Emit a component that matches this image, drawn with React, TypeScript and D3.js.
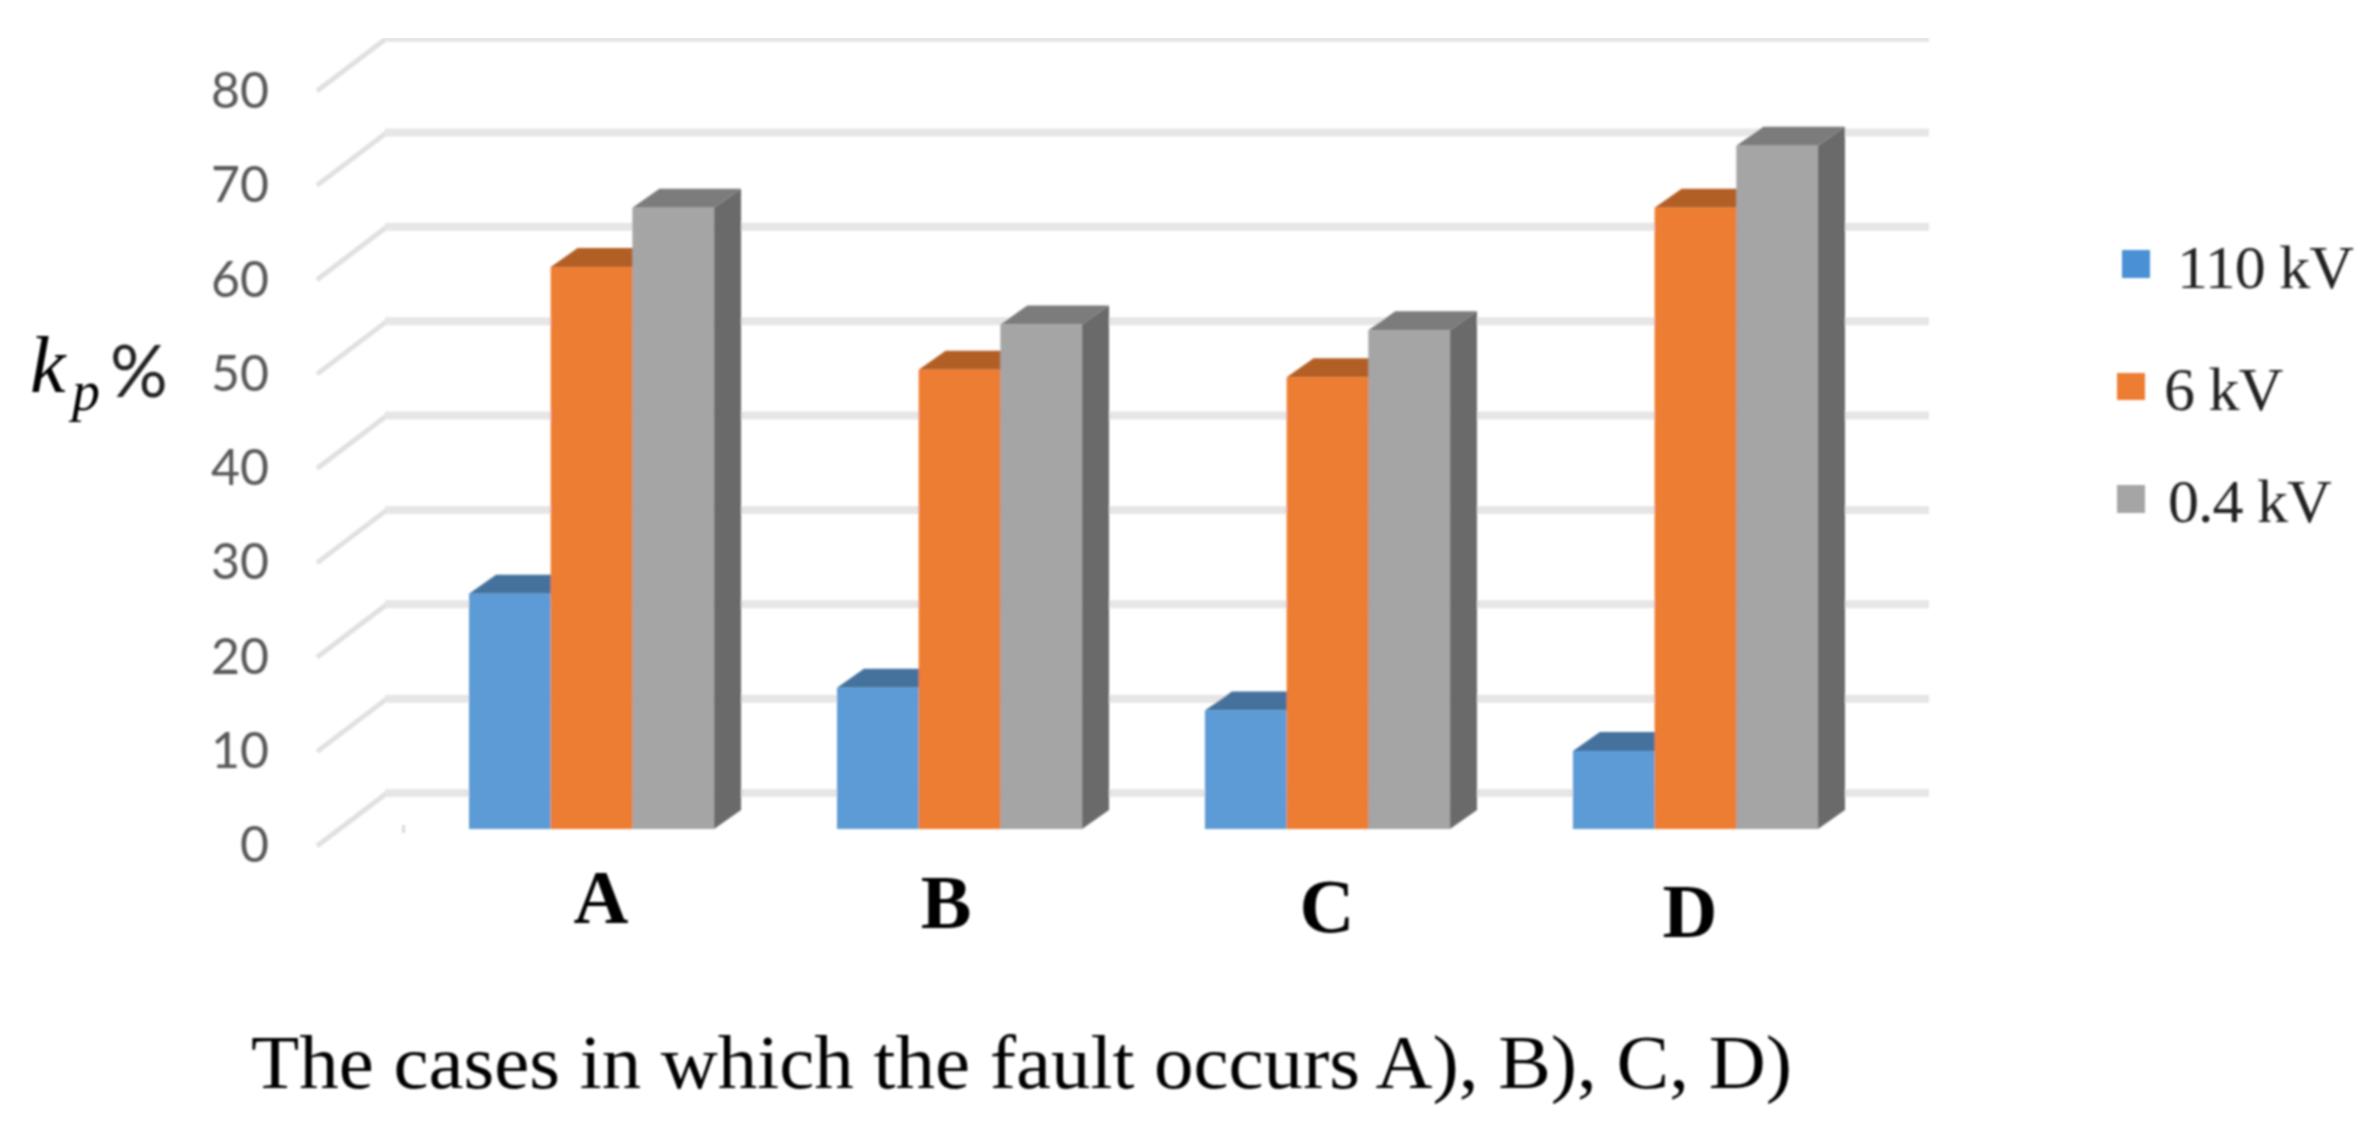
import React from "react";
import * as d3 from "d3";

const categories = ["A", "B", "C", "D"];
const seriesNames = ["110 kV", "6 kV", "0.4 kV"];
const values110 = [25, 15, 12.6, 8.3];
const values6 = [59.7, 48.8, 48, 66];
const values04 = [66, 53.6, 53, 72.6];
const allValues = [values110, values6, values04];
const ticks = [0, 10, 20, 30, 40, 50, 60, 70, 80];
const title = "The cases in which the fault occurs A), B), C, D)";
const frontColors = ["#5B9BD5", "#ED7D31", "#A5A5A5"];
const topColors = ["#44729D", "#B25E25", "#7C7C7C"];
const sideColors = ["#41719C", "#AE5A21", "#6B6B6B"];
const legendColors = ["#4A90D4", "#ED7D31", "#A5A5A5"];

const W = 2379, H = 1124;
const yWall = d3.scaleLinear().domain([0, 80]).range([793, 38]);
const yBar = d3.scaleLinear().domain([0, 80]).range([829, 76]);
const yLabel = d3.scaleLinear().domain([0, 80]).range([862, 108]);
const xGroup = d3.scaleBand<string>().domain(categories).range([469, 1818]).paddingInner(0.334);
const xSeries = d3.scaleBand<number>().domain([0, 1, 2]).range([0, xGroup.bandwidth()]);
const DX = 27, DY = 19;
const wallLeft = 387, frontLeft = 317, wallRight = 1929;

const catX = [601, 946, 1327, 1690];
const catBase = [923, 928, 932, 937];
const legendBox = [[2122, 250, 278], [2117, 373, 400], [2117, 485, 513]];
const legendText = [[2177, 288], [2164, 410], [2168, 522]];

export default function App() {
  return (
    <svg width={W} height={H} viewBox={`0 0 ${W} ${H}`} style={{ position: "absolute", left: 0, top: 0, background: "#fff" }}>
      <defs>
        <filter id="soft" x="0" y="0" width="100%" height="100%">
          <feGaussianBlur stdDeviation="0.8" />
        </filter>
      </defs>
      <g filter="url(#soft)">
        {ticks.map((t) => {
          const yb = yWall(t);
          const yf = yb + 53;
          return (
            <g key={t}>
              <path d={`M${frontLeft},${yf}L${wallLeft},${yb}`} stroke="#E0E0E0" strokeWidth={5} fill="none" />
              <line x1={wallLeft - 2} x2={wallRight} y1={yb} y2={yb} stroke="#E6E6E6" strokeWidth={8} />
              <text x={269} y={yLabel(t)} textAnchor="end" fontFamily="Lato" fontSize={50} fill="#595959">{t}</text>
            </g>
          );
        })}
        <rect x={402} y={825} width={3} height={8} fill="#D5DCE3" />
        {categories.map((c, ci) => (
          <g key={c} transform={`translate(${xGroup(c)},0)`}>
            {allValues.map((vals, si) => {
              const x = xSeries(si)!;
              const w = xSeries.bandwidth();
              const yt = yBar(vals[ci]);
              const y0 = yBar(0);
              return (
                <g key={si}>
                  <path d={`M${x + w},${yt}L${x + w + DX},${yt - DY}V${y0 - DY}L${x + w},${y0}Z`} fill={sideColors[si]} />
                  <path d={`M${x},${yt}L${x + DX},${yt - DY}H${x + w + DX}L${x + w},${yt}Z`} fill={topColors[si]} />
                  <rect x={x} y={yt} width={w} height={y0 - yt} fill={frontColors[si]} />
                </g>
              );
            })}
          </g>
        ))}
        {categories.map((c, i) => (
          <text key={c} x={catX[i]} y={catBase[i]} textAnchor="middle" fontFamily="Liberation Serif" fontWeight="bold" fontSize={76} fill="#000">{c}</text>
        ))}
        <text x={251} y={1088} fontFamily="Liberation Serif" fontSize={77} fill="#000" textLength={1541} lengthAdjust="spacingAndGlyphs">{title}</text>
        <text x={30} y={392} fontFamily="Liberation Serif" fontStyle="italic" fontSize={80} fill="#000">k</text>
        <text x={72} y={410} fontFamily="Liberation Serif" fontStyle="italic" fontSize={56} fill="#000">p</text>
        <text x={110} y={397} fontFamily="Lato" fontSize={72} fill="#222">%</text>
        {seriesNames.map((s, i) => {
          const [sx, y0, y1] = legendBox[i];
          const [tx, base] = legendText[i];
          return (
            <g key={s}>
              <rect x={sx} y={y0} width={28} height={y1 - y0} fill={legendColors[i]} />
              <text x={tx} y={base} fontFamily="Liberation Serif" fontSize={62} letterSpacing={-1} fill="#222">{s}</text>
            </g>
          );
        })}
      </g>
    </svg>
  );
}
